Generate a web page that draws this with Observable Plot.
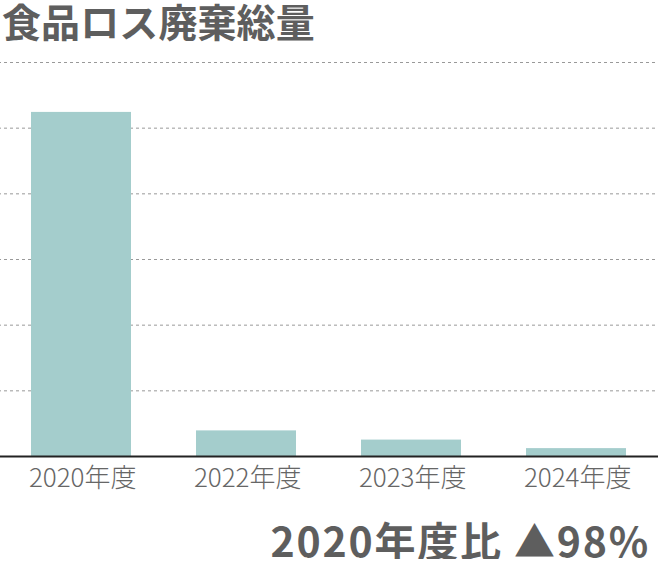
<!DOCTYPE html>
<html><head><meta charset="utf-8">
<script src="https://cdn.jsdelivr.net/npm/d3@7"></script>
<script src="https://cdn.jsdelivr.net/npm/@observablehq/plot@0.6"></script>
<style>
body{margin:0;background:#fff;font-family:"Noto Sans CJK JP","Noto Sans",sans-serif;color:#666;width:660px;}
#title{font-size:39px;font-weight:700;line-height:40px;height:46px;margin:0;padding-left:2px;color:#5e5e5e;letter-spacing:0.1px;}
#foot{font-size:41px;font-weight:700;line-height:40px;text-align:right;padding-right:10px;margin-top:13px;color:#5e5e5e;letter-spacing:1.8px;}
#chart svg{display:block;}
</style></head>
<body>
<div id="title">食品ロス廃棄総量</div>
<div id="chart"></div>
<div id="foot">2020年度比 ▲98%</div>
<script>
const years = ["2020年度","2022年度","2023年度","2024年度"];
const values = [524, 39, 25, 12];
const gridTicks = [100,200,300,400,500,600];
const data = years.map((y,i)=>({year:y, value:values[i]}));
const chart = Plot.plot({
  width:660, height:460,
  marginTop:16, marginBottom:50, marginLeft:-2, marginRight:2,
  style:{fontFamily:'"Noto Sans CJK JP","Noto Sans",sans-serif', color:"#666", background:"#fff"},
  x:{domain:years, paddingInner:0.394, paddingOuter:0.197},
  y:{domain:[0,600], axis:null},
  marks:[
    Plot.gridY(gridTicks,{stroke:"#999",strokeOpacity:1,strokeDasharray:"3,3",strokeWidth:1}),
    Plot.barY(data,{x:"year",y:"value",fill:"#a4cdcc"}),
    Plot.ruleY([0],{stroke:"#222",strokeWidth:2}),
    Plot.axisX({tickSize:0,tickPadding:12,fontSize:26,fontWeight:300,letterSpacing:2.5,dx:1.2,label:null,fill:"#666"}),
  ]
});
document.getElementById("chart").appendChild(chart);
</script>
</body></html>
